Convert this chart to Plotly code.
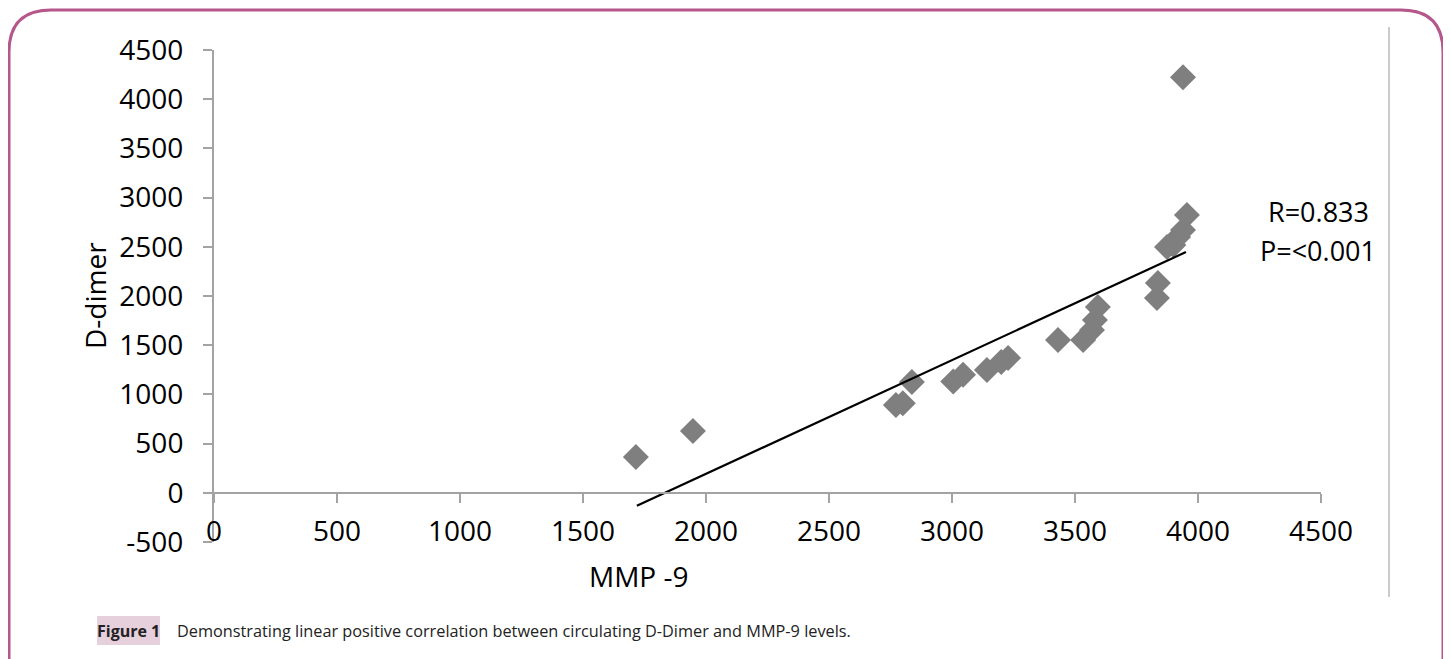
import plotly.graph_objects as go

# ---- data ----
mmp9 = [1715, 1947, 2772, 2800, 2837, 3005, 3045, 3142, 3200, 3228, 3431, 3533,
        3569, 3581, 3593, 3833, 3837, 3874, 3900, 3919, 3939, 3955, 3939]
ddimer = [365, 629, 893, 910, 1127, 1130, 1200, 1249, 1330, 1371, 1553, 1553,
          1655, 1756, 1888, 1980, 2132, 2497, 2518, 2599, 2670, 2822, 4223]
trend_x = [1719, 3951]
trend_y = [-132, 2447]
x_tick_vals = [0, 500, 1000, 1500, 2000, 2500, 3000, 3500, 4000, 4500]
y_tick_vals = [-500, 0, 500, 1000, 1500, 2000, 2500, 3000, 3500, 4000, 4500]
x_tick_text = [str(v) for v in x_tick_vals]
y_tick_text = [str(v) for v in y_tick_vals]
stats_r = "R=0.833"
stats_p = "P=<0.001"
caption_label = "Figure 1"
caption_text = "Demonstrating linear positive correlation between circulating D-Dimer and MMP-9 levels."

# page is offset by the default 8px body margin
OFF = 8
W, H = 1451 - OFF, 659 - OFF
ML, MR, MT, MB = 214 - OFF, 130, 50 - OFF, 117
PW = W - ML - MR
PH = H - MT - MB


def px(x):
    # x given in page pixels
    return (x - OFF - ML) / PW


def py(y):
    return (H - MB - (y - OFF)) / PH


FONT = "Open Sans, Lato, DejaVu Sans, sans-serif"
AXIS_GREY = "#a3a3a3"

fig = go.Figure()
fig.add_trace(go.Scatter(
    x=mmp9, y=ddimer, mode="markers",
    marker=dict(symbol="diamond", size=20, color="#7f7f80", line=dict(width=0)),
    showlegend=False, hoverinfo="x+y"))
fig.add_trace(go.Scatter(
    x=trend_x, y=trend_y, mode="lines",
    line=dict(color="black", width=2.2), showlegend=False, hoverinfo="skip"))

fig.update_layout(
    width=W, height=H,
    margin=dict(l=ML, r=MR, t=MT, b=MB, pad=0),
    paper_bgcolor="white", plot_bgcolor="white",
    font=dict(family=FONT, size=28, color="black"),
    xaxis=dict(range=[0, 4500], tickvals=x_tick_vals, ticktext=x_tick_text,
               showgrid=False, zeroline=False,
               showline=True, linecolor=AXIS_GREY, linewidth=2,
               ticks="outside", ticklen=9, tickwidth=2, tickcolor=AXIS_GREY,
               anchor="free", position=0.1, ticklabelstandoff=5,
               tickfont=dict(size=28, family=FONT)),
    yaxis=dict(range=[-500, 4500], tickvals=y_tick_vals, ticktext=y_tick_text,
               showgrid=False, zeroline=False,
               showline=True, linecolor=AXIS_GREY, linewidth=2,
               ticks="outside", ticklen=9, tickwidth=2, tickcolor=AXIS_GREY,
               ticklabelstandoff=14, tickfont=dict(size=28, family=FONT)),
)

# axis titles and stats
fig.add_annotation(x=px(639), y=py(576), xref="paper", yref="paper", text="MMP -9",
                   showarrow=False, font=dict(size=28, family=FONT), xanchor="center", yanchor="middle")
fig.add_annotation(x=px(95), y=py(295), xref="paper", yref="paper", text="D-dimer",
                   showarrow=False, textangle=-90, font=dict(size=28, family=FONT),
                   xanchor="center", yanchor="middle")
fig.add_annotation(x=px(1318), y=py(211), xref="paper", yref="paper", text=stats_r,
                   showarrow=False, font=dict(size=27, family=FONT),
                   xanchor="center", yanchor="middle")
fig.add_annotation(x=px(1318), y=py(250), xref="paper", yref="paper", text=stats_p,
                   showarrow=False, font=dict(size=27, family=FONT),
                   xanchor="center", yanchor="middle")

# right grey separator line
fig.add_shape(type="line", xref="paper", yref="paper",
              x0=px(1389), x1=px(1389), y0=py(27), y1=py(597),
              line=dict(color="#a8a8a8", width=1.2))

# rounded magenta border
L, R, T, B, r = 9, 1443, 10, 700, 42
path = (f"M {px(L + r)},{py(T)} L {px(R - r)},{py(T)} "
        f"Q {px(R)},{py(T)} {px(R)},{py(T + r)} "
        f"L {px(R)},{py(B - r)} Q {px(R)},{py(B)} {px(R - r)},{py(B)} "
        f"L {px(L + r)},{py(B)} Q {px(L)},{py(B)} {px(L)},{py(B - r)} "
        f"L {px(L)},{py(T + r)} Q {px(L)},{py(T)} {px(L + r)},{py(T)} Z")
fig.add_shape(type="path", path=path, xref="paper", yref="paper",
              line=dict(color="#b5578b", width=3), fillcolor="rgba(0,0,0,0)", layer="above")

# caption
fig.add_shape(type="rect", xref="paper", yref="paper",
              x0=px(97), x1=px(160), y0=py(645), y1=py(616),
              fillcolor="#e6d0dc", line=dict(width=0), layer="below")
fig.add_annotation(x=px(128.5), y=py(631), xref="paper", yref="paper",
                   text=f"<b>{caption_label}</b>", showarrow=False,
                   font=dict(size=16, family=FONT, color="#222"), xanchor="center", yanchor="middle")
fig.add_annotation(x=px(175), y=py(631), xref="paper", yref="paper",
                   text=caption_text, showarrow=False,
                   font=dict(size=16.3, family=FONT, color="#222"), xanchor="left", yanchor="middle")

fig.write_html("out.html")
